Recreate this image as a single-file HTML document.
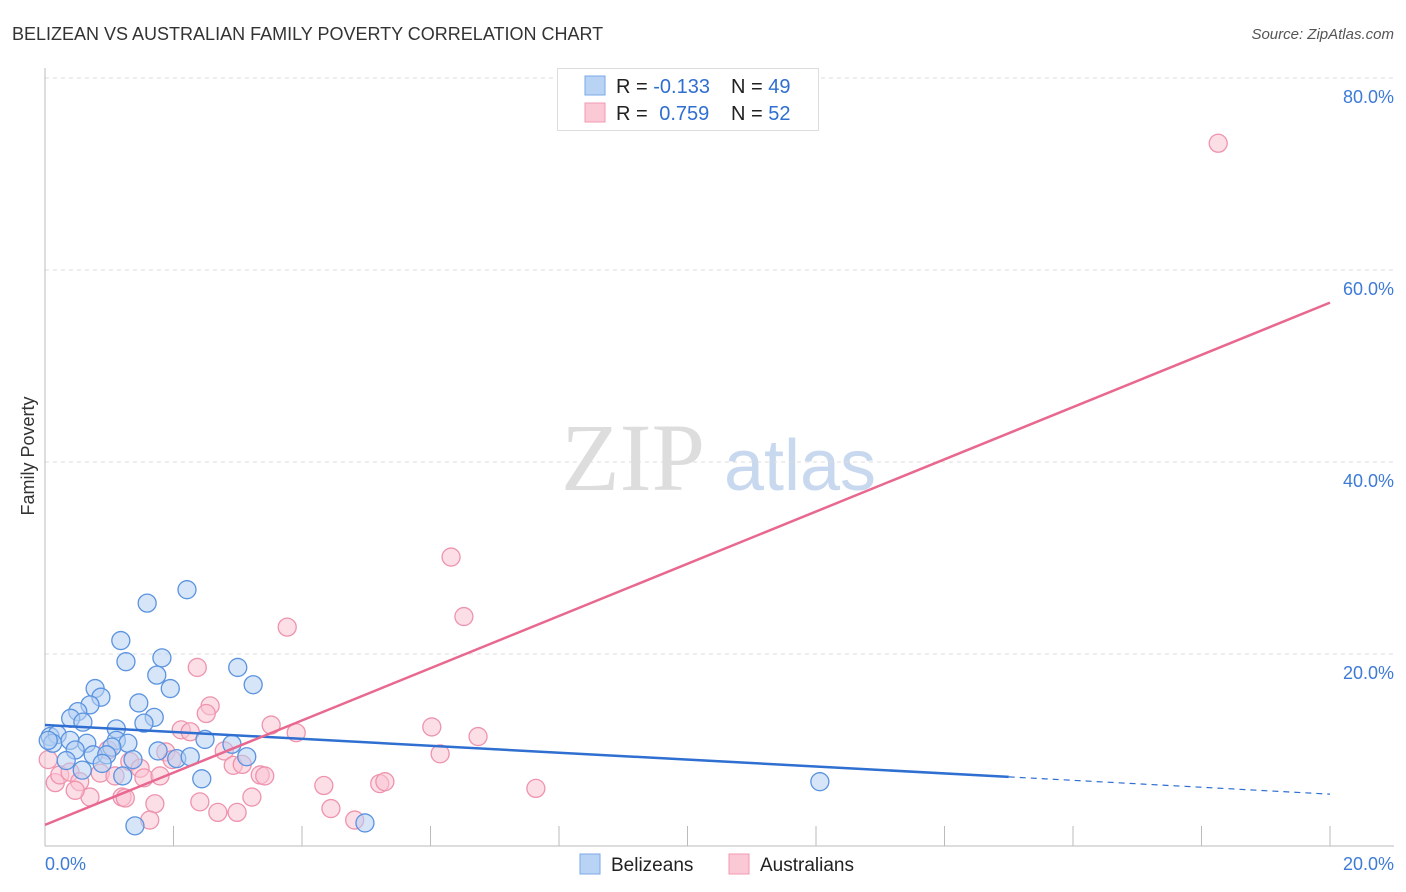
<!DOCTYPE html>
<html><head><meta charset="utf-8">
<style>
body{margin:0;background:#fff;font-family:"Liberation Sans",sans-serif;}
svg{display:block}
</style></head>
<body>
<svg id="chart" width="1406" height="892" xmlns="http://www.w3.org/2000/svg">
<text x="12" y="40" font-size="18" fill="#333">BELIZEAN VS AUSTRALIAN FAMILY POVERTY CORRELATION CHART</text>
<text x="1394" y="39" font-size="15" fill="#555" font-style="italic" text-anchor="end">Source: ZipAtlas.com</text>
<text transform="translate(34,456) rotate(-90)" font-size="18" fill="#333" text-anchor="middle">Family Poverty</text>
<g>
<text x="633" y="490" font-size="96" fill="#ddd" font-family="Liberation Serif,serif" text-anchor="middle">ZIP</text>
<text x="800" y="490" font-size="72" fill="#c8d8ee" text-anchor="middle">atlas</text>
</g>
<g id="grid"></g>
<g id="axes"></g>
<g id="points"></g>
<g id="lines"></g>
<g>
<rect x="557.5" y="68.5" width="261" height="62" fill="#fff" stroke="#ddd"/>
<rect x="585" y="76" width="20" height="19" fill="#b9d3f5" stroke="#7aa8e6"/>
<rect x="585" y="103" width="20" height="19" fill="#fbc8d6" stroke="#f09ab2"/>
<text x="616" y="93" font-size="20" fill="#222">R = <tspan fill="#2f6fd1">-0.133</tspan></text>
<text x="731" y="93" font-size="20" fill="#222">N = <tspan fill="#2f6fd1">49</tspan></text>
<text x="616" y="120" font-size="20" fill="#222">R = <tspan fill="#2f6fd1" dx="6">0.759</tspan></text>
<text x="731" y="120" font-size="20" fill="#222">N = <tspan fill="#2f6fd1">52</tspan></text>
</g>
<g>
<rect x="580" y="854" width="20" height="20" fill="#b9d3f5" stroke="#7aa8e6"/>
<text x="611" y="871" font-size="19" fill="#222">Belizeans</text>
<rect x="729" y="854" width="20" height="20" fill="#fbc8d6" stroke="#f09ab2"/>
<text x="760" y="871" font-size="19" fill="#222">Australians</text>
</g>
<text x="45" y="870" font-size="18" fill="#3d7bd6">0.0%</text>
<text x="1394" y="870" font-size="18" fill="#3d7bd6" text-anchor="end">20.0%</text>
</svg>
<script>
const yTicks=[20,40,60,80];
const yTickLabels=["20.0%","40.0%","60.0%","80.0%"];
const blueX=[2.21,1.59,1.18,1.26,1.82,1.74,1.95,0.78,0.87,0.70,1.46,0.51,0.40,0.59,1.70,1.54,1.11,3.00,3.24,0.08,0.19,0.12,0.39,0.65,1.11,1.29,1.04,2.49,2.91,1.76,2.05,2.26,0.47,0.75,0.96,1.37,0.33,0.89,3.14,0.58,1.21,2.44,1.40,4.98,12.06,0.05];
const blueY=[26.7,25.3,21.4,19.2,19.6,17.8,16.4,16.4,15.5,14.7,14.9,14.0,13.3,12.9,13.4,12.8,12.2,18.6,16.8,11.4,11.6,10.7,11.0,10.7,11.0,10.7,10.3,11.1,10.6,9.9,9.1,9.3,10.0,9.5,9.5,9.0,8.9,8.6,9.3,7.9,7.3,7.0,2.1,2.4,6.7,11.0];
const pinkX=[18.26,6.32,6.52,3.77,2.37,2.57,2.51,2.12,2.26,3.52,3.91,6.02,6.74,1.88,2.79,2.93,3.07,3.35,3.42,6.15,4.34,5.21,5.29,7.64,4.82,4.45,2.99,2.69,2.41,3.22,1.71,1.63,1.20,1.25,0.05,0.16,0.23,0.39,0.54,0.70,0.86,0.98,1.09,1.32,1.48,1.54,1.79,1.98,0.47];
const pinkY=[73.2,30.1,23.9,22.8,18.6,14.6,13.8,12.1,11.9,12.6,11.8,12.4,11.4,9.8,9.9,8.4,8.5,7.4,7.3,9.6,6.3,6.5,6.7,6.0,2.7,3.9,3.5,3.5,4.6,5.1,4.4,2.7,5.1,5.0,9.0,6.6,7.4,7.7,6.7,5.1,7.6,10.0,7.3,8.8,8.1,7.1,7.3,9.0,5.8];
const blueTrend=[12.6,7.2,5.4];  // y at x=0, 15, 20
const blueTrendX=[0,15,20];
const pinkTrend=[2.2,56.6];
const pinkTrendX=[0,20];
const NS="http://www.w3.org/2000/svg";
const sx=v=>45+v/20*1285;
const sy=v=>846-v*9.6;
function mk(tag,attrs,parent){const e=document.createElementNS(NS,tag);for(const k in attrs)e.setAttribute(k,attrs[k]);parent.appendChild(e);return e;}
const grid=document.getElementById('grid'),axes=document.getElementById('axes'),pts=document.getElementById('points'),lines=document.getElementById('lines');
yTicks.forEach((t,i)=>{
 const l=mk('line',{x1:45,x2:1394,y1:sy(t),y2:sy(t),stroke:'#ddd','stroke-dasharray':'4,4'},grid);
 
 
 const tx=mk('text',{x:1394,y:sy(t)+25,'font-size':18,fill:'#3d7bd6','text-anchor':'end'},grid);
 tx.textContent=yTickLabels[i];
 
 
});
const ya=mk('line',{x1:45,x2:45,y1:68,y2:846,stroke:'#bbb'},axes);


const xa=mk('line',{x1:45,x2:1394,y1:846,y2:846,stroke:'#bbb'},axes);


for(let i=0;i<=10;i++){
 const t=mk('line',{x1:sx(i*2),x2:sx(i*2),y1:826,y2:846,stroke:'#bbb'},axes);
 
 
}
function dot(x,y,fill,stroke,name){
 const c=mk('circle',{cx:sx(x),cy:sy(y),r:9,fill:fill,'fill-opacity':0.55,stroke:stroke,'stroke-width':1.3},pts);
 
 
}
pinkX.forEach((x,i)=>dot(x,pinkY[i],'#f9c3d2','#ee93ad','australians-point'));
blueX.forEach((x,i)=>dot(x,blueY[i],'#b5cff3','#5a93e0','belizeans-point'));
const bl=mk('line',{x1:sx(blueTrendX[0]),y1:sy(blueTrend[0]),x2:sx(blueTrendX[1]),y2:sy(blueTrend[1]),stroke:'#2f6fd1','stroke-width':2.5},lines);


const bd=mk('line',{x1:sx(blueTrendX[1]),y1:sy(blueTrend[1]),x2:sx(blueTrendX[2]),y2:sy(blueTrend[2]),stroke:'#2f6fd1','stroke-width':1.2,'stroke-dasharray':'6,5'},lines);


const pl=mk('line',{x1:sx(pinkTrendX[0]),y1:sy(pinkTrend[0]),x2:sx(pinkTrendX[1]),y2:sy(pinkTrend[1]),stroke:'#e8688f','stroke-width':2.5},lines);


</script>
</body></html>
